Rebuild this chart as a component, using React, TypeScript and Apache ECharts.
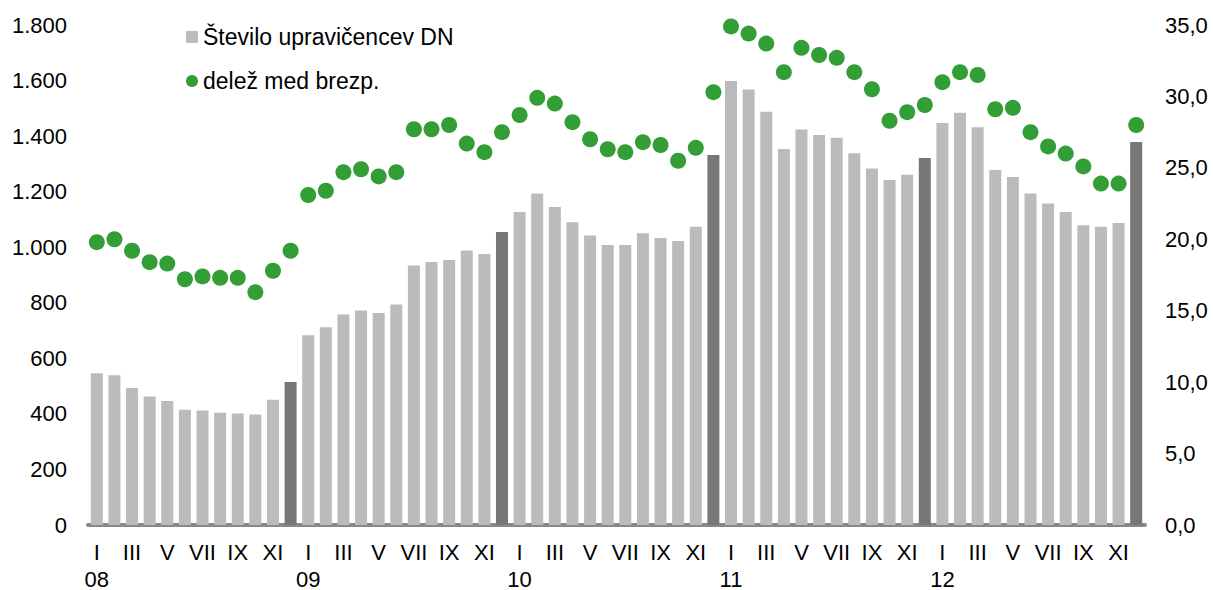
import React, { useEffect, useRef } from "react";
import * as echarts from "echarts";

const years = ["08", "09", "10", "11", "12"];
const months = ["I", "II", "III", "IV", "V", "VI", "VII", "VIII", "IX", "X", "XI", "XII"];

const countValues = [
  546, 539, 493, 463, 446, 415, 412, 404, 401, 398, 451, 515,
  683, 712, 758, 772, 763, 794, 934, 947, 954, 988, 976, 1055,
  1127, 1193, 1145, 1090, 1042, 1008, 1008, 1050, 1033, 1022, 1074, 1332,
  1598, 1568, 1488, 1354, 1424, 1404, 1394, 1338, 1283, 1242, 1261, 1321,
  1447, 1484, 1432, 1278, 1253, 1193, 1157, 1127, 1079, 1074, 1087, 1379,
];

const shareValues = [
  19.8, 20.0, 19.2, 18.4, 18.3, 17.2, 17.4, 17.3, 17.3, 16.3, 17.8, 19.2,
  23.1, 23.4, 24.7, 24.9, 24.4, 24.7, 27.7, 27.7, 28.0, 26.7, 26.1, 27.5,
  28.7, 29.9, 29.5, 28.2, 27.0, 26.3, 26.1, 26.8, 26.6, 25.5, 26.4, 30.3,
  34.9, 34.4, 33.7, 31.7, 33.4, 32.9, 32.7, 31.7, 30.5, 28.3, 28.9, 29.4,
  31.0, 31.7, 31.5, 29.1, 29.2, 27.5, 26.5, 26.0, 25.1, 23.9, 23.9, 28.0,
];

const categories: string[] = [];
years.forEach((y) => months.forEach((m) => categories.push(m + "|" + y)));

const leftTicks = { min: 0, max: 1800, interval: 200 };
const rightTicks = { min: 0, max: 35, interval: 5 };

const seriesNames = ["Število upravičencev DN", "delež med brezp."];

const FONT = "Liberation Sans, Arial, sans-serif";
const BAR = "#BBBBBB";
const BAR_DEC = "#787677";
const GREEN = "#339E35";

export default function App() {
  const ref = useRef<HTMLDivElement>(null);
  useEffect(() => {
    document.body.style.margin = "0";
    const chart = echarts.init(ref.current!, null, { renderer: "svg" });
    chart.setOption({
      animation: false,
      textStyle: { fontFamily: FONT },
      grid: {
        left: 88,
        right: 68,
        top: 25,
        bottom: 65,
        containLabel: false,
        outerBoundsMode: "none",
      },
      legend: {
        left: 181,
        top: 20,
        orient: "vertical",
        itemWidth: 12,
        itemHeight: 12,
        itemGap: 20,
        textStyle: { fontSize: 23, color: "#000", fontFamily: FONT, lineHeight: 24 },
        data: [
          { name: seriesNames[0], icon: "rect", itemStyle: { color: BAR } },
          { name: seriesNames[1], icon: "circle", itemStyle: { color: GREEN } },
        ],
      },
      xAxis: {
        type: "category",
        data: categories,
        axisLine: { show: true, lineStyle: { color: "#888888", width: 4 } },
        axisTick: { show: false },
        axisLabel: {
          interval: 1,
          margin: 12,
          fontSize: 22,
          color: "#000",
          fontFamily: FONT,
          rich: {
            m: { fontSize: 22, lineHeight: 31, color: "#000", fontFamily: FONT },
            y: { fontSize: 22, lineHeight: 22, color: "#000", fontFamily: FONT },
          },
          formatter: (v: string) => {
            const [m, y] = v.split("|");
            return m === "I" ? "{m|" + m + "}\n{y|" + y + "}" : "{m|" + m + "}";
          },
        },
      },
      yAxis: [
        {
          type: "value",
          ...leftTicks,
          splitLine: { show: false },
          axisLine: { show: false },
          axisTick: { show: false },
          axisLabel: {
            margin: 21,
            fontSize: 22,
            color: "#000",
            fontFamily: FONT,
            formatter: (v: number) => String(v).replace(/\B(?=(\d{3})+(?!\d))/g, "."),
          },
        },
        {
          type: "value",
          ...rightTicks,
          position: "right",
          splitLine: { show: false },
          axisLine: { show: false },
          axisTick: { show: false },
          axisLabel: {
            margin: 20,
            fontSize: 22,
            color: "#000",
            fontFamily: FONT,
            formatter: (v: number) => v.toFixed(1).replace(".", ","),
          },
        },
      ],
      series: [
        {
          name: seriesNames[0],
          type: "bar",
          yAxisIndex: 0,
          barWidth: 12,
          data: countValues,
          itemStyle: {
            color: (p: any) => (p.dataIndex % 12 === 11 ? BAR_DEC : BAR),
          },
        },
        {
          name: seriesNames[1],
          type: "scatter",
          yAxisIndex: 1,
          symbol: "circle",
          symbolSize: 16,
          data: shareValues,
          itemStyle: { color: GREEN, opacity: 1 },
        },
      ],
    });
    return () => chart.dispose();
  }, []);
  return <div ref={ref} style={{ width: 1213, height: 590 }} />;
}
